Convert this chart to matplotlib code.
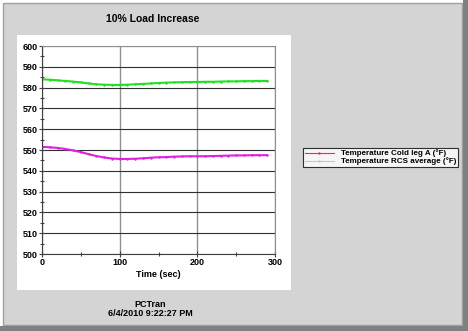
import matplotlib
matplotlib.use('Agg')
import matplotlib.pyplot as plt
from matplotlib.patches import Rectangle

plt.rcParams['font.family'] = ['Liberation Sans', 'DejaVu Sans']

# time (sec) and temperatures (F)
time_s = [0, 10, 20, 30, 40, 50, 60, 70, 80, 90, 100, 110, 120, 130, 140, 150,
          160, 170, 180, 190, 200, 210, 220, 230, 240, 250, 260, 270, 280, 290]
cold_leg_a = [551.5, 551.3, 551.0, 550.5, 549.8, 549.0, 548.0, 547.1, 546.4, 545.9,
              545.7, 545.7, 545.8, 546.0, 546.3, 546.5, 546.6, 546.8, 546.9, 547.0,
              547.0, 547.0, 547.1, 547.2, 547.3, 547.4, 547.4, 547.5, 547.5, 547.5]
rcs_average = [584.0, 583.8, 583.5, 583.2, 582.9, 582.5, 582.0, 581.6, 581.4, 581.3,
               581.3, 581.4, 581.6, 581.8, 582.0, 582.2, 582.4, 582.5, 582.6, 582.7,
               582.7, 582.8, 582.8, 582.9, 583.0, 583.0, 583.1, 583.1, 583.2, 583.2]
series_labels = ['Temperature Cold leg A (°F)', 'Temperature RCS average (°F)']

W, H = 468, 331
bg = '#d4d4d4'

fig = plt.figure(figsize=(W / 100, H / 100), dpi=100, facecolor='white')

def px(x, y, w, h):
    # pixel box (top-left origin) -> figure fraction
    return (x / W, 1 - (y + h) / H, w / W, h / H)

def box(x, y, w, h, **kw):
    a, b, c, d = px(x, y, w, h)
    fig.patches.append(Rectangle((a, b), c, d, transform=fig.transFigure, zorder=-5, **kw))

# window frame
box(3, 3, 459, 322, facecolor=bg, edgecolor='#a0a0a0', lw=1)
box(463, 0, 5, 331, facecolor='#808080', edgecolor='none')
box(0, 326, 468, 5, facecolor='#808080', edgecolor='none')
# white chart panel
box(17, 35, 274, 255, facecolor='white', edgecolor='none')

ax = fig.add_axes(px(42, 46, 233, 208))
ax.set_facecolor('white')

l1, = ax.plot(time_s, cold_leg_a, color='#e020e0', lw=1.5, marker='.', ms=1.5)
l2, = ax.plot(time_s, rcs_average, color='#20e020', lw=1.5, marker='.', ms=1.5)

ax.set_xlim(0, 300)
ax.set_ylim(500, 600)
ax.set_xticks([0, 100, 200, 300])
ax.set_yticks(range(500, 601, 10))
ax.set_xticks(range(0, 301, 50), minor=True)
ax.set_yticks(range(500, 601, 5), minor=True)
ax.tick_params(which='both', direction='inout', length=4, width=0.8, color='#404040',
               labelsize=6.5, pad=1, top=False, right=False)
ax.tick_params(which='minor', length=3)
for lab in ax.get_xticklabels() + ax.get_yticklabels():
    lab.set_fontweight('bold')
ax.grid(axis='y', color='#303030', lw=0.8)
ax.grid(axis='x', color='#909090', lw=1)
for s in ['top', 'right']:
    ax.spines[s].set_color('#909090')
for s in ['left', 'bottom']:
    ax.spines[s].set_color('#404040')
ax.set_axisbelow(True)
ax.set_xlabel('Time (sec)', fontsize=6.5, fontweight='bold', labelpad=2)

fig.text(153 / W, 1 - 19 / H, '10% Load Increase', ha='center', va='center',
         fontsize=7.5, fontweight='bold')
fig.text(150 / W, 1 - 309 / H, 'PCTran\n6/4/2010 9:22:27 PM', ha='center', va='center',
         fontsize=6.5, fontweight='bold', linespacing=1.0)

leg = fig.legend([l1, l2], series_labels, loc='upper left',
                 bbox_to_anchor=(303 / W, 1 - 148 / H), frameon=True, fancybox=False,
                 fontsize=5.8, handlelength=3.6, handletextpad=0.9, borderpad=0.2,
                 labelspacing=0.0, borderaxespad=0)
leg.get_frame().set_edgecolor('black')
leg.get_frame().set_linewidth(0.8)
leg.get_frame().set_facecolor('white')
leg.get_lines()[0].set_color('#ff2060')
leg.get_lines()[0].set_linewidth(0.8)
leg.get_lines()[1].set_color('#a0e0a0')
leg.get_lines()[1].set_linewidth(0.8)
for t in leg.get_texts():
    t.set_fontweight('bold')

plt.savefig('out.png', dpi=100, facecolor=fig.get_facecolor())
